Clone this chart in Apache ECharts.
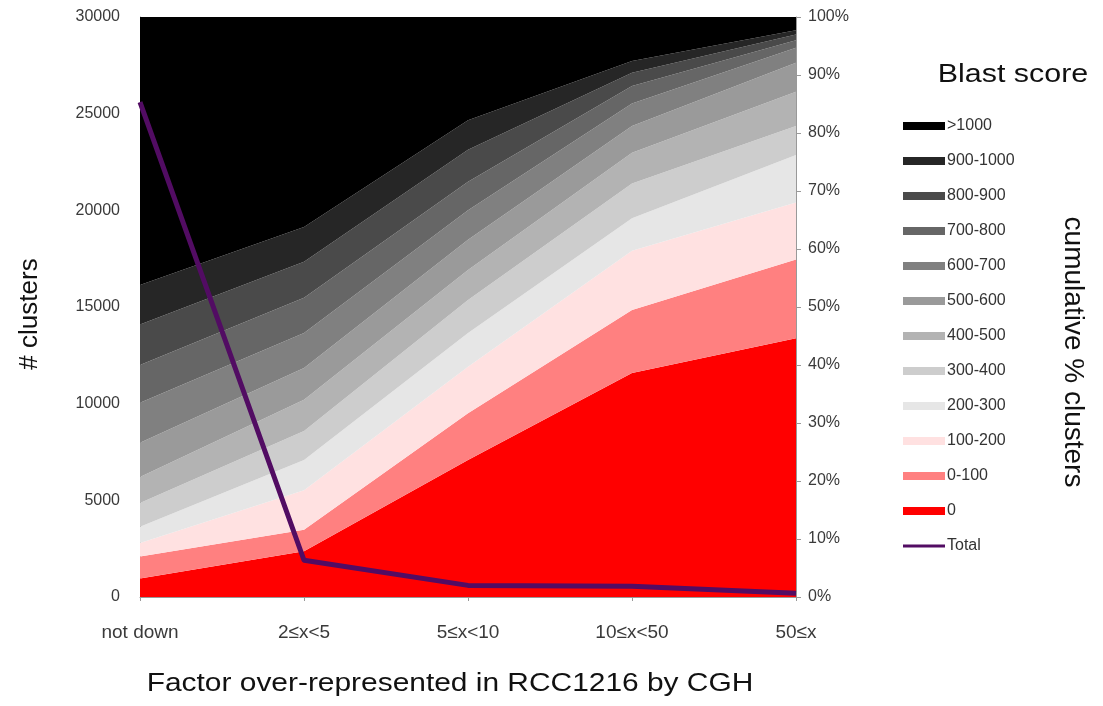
<!DOCTYPE html>
<html>
<head>
<meta charset="utf-8">
<script src="https://cdn.jsdelivr.net/npm/echarts@6/dist/echarts.min.js"></script>
<style>
html,body{margin:0;padding:0;background:#fff;}
#chart{width:1103px;height:706px;}
</style>
</head>
<body>
<div id="chart"></div>
<script>
// ---- data ----
const categories = ['not down', '2≤x<5', '5≤x<10', '10≤x<50', '50≤x'];
const leftTicks = [0, 5000, 10000, 15000, 20000, 25000, 30000];
const rightTicks = [0, 10, 20, 30, 40, 50, 60, 70, 80, 90, 100];

// percentage of clusters per blast-score bin (stacked, bottom to top)
const pct0        = [3.2, 7.9, 23.6, 38.6, 44.6];
const pct0_100    = [3.8, 3.7, 8.1, 10.9, 13.6];
const pct100_200  = [2.3, 6.8, 8.0, 10.2, 9.8];
const pct200_300  = [2.8, 5.2, 5.8, 5.6, 8.2];
const pct300_400  = [4.1, 5.0, 5.7, 6.0, 5.0];
const pct400_500  = [4.5, 5.4, 5.2, 5.3, 5.9];
const pct500_600  = [5.9, 5.5, 5.2, 4.6, 5.0];
const pct600_700  = [6.9, 6.0, 5.1, 3.9, 2.6];
const pct700_800  = [6.5, 6.1, 4.9, 3.0, 1.3];
const pct800_900  = [7.0, 6.2, 5.5, 2.3, 1.0];
const pct900_1000 = [6.8, 6.0, 5.1, 2.0, 0.7];
const pctOver1000 = [46.2, 36.2, 17.8, 7.6, 2.3];

// total number of clusters
const totalClusters = [25600, 1900, 600, 550, 200];

// ---- series definitions (bottom to top) ----
const layers = [
  {name: '0',        data: pct0,        color: '#ff0000'},
  {name: '0-100',    data: pct0_100,    color: '#ff8080'},
  {name: '100-200',  data: pct100_200,  color: '#ffe1e1'},
  {name: '200-300',  data: pct200_300,  color: '#e6e6e6'},
  {name: '300-400',  data: pct300_400,  color: '#cdcdcd'},
  {name: '400-500',  data: pct400_500,  color: '#b3b3b3'},
  {name: '500-600',  data: pct500_600,  color: '#9a9a9a'},
  {name: '600-700',  data: pct600_700,  color: '#808080'},
  {name: '700-800',  data: pct700_800,  color: '#666666'},
  {name: '800-900',  data: pct800_900,  color: '#4a4a4a'},
  {name: '900-1000', data: pct900_1000, color: '#262626'},
  {name: '>1000',    data: pctOver1000, color: '#000000'}
];
const totalColor = '#520c63';
const FONT = "'Liberation Sans', Arial, Helvetica, sans-serif";

const series = layers.map(l => ({
  name: l.name,
  type: 'line',
  stack: 'pct',
  yAxisIndex: 1,
  data: l.data,
  symbol: 'none',
  smooth: false,
  color: l.color,
  itemStyle: {color: l.color},
  lineStyle: {width: 0, color: l.color},
  areaStyle: {color: l.color, opacity: 1},
  emphasis: {disabled: true},
  z: 2
}));
series.push({
  name: 'Total',
  type: 'line',
  yAxisIndex: 0,
  data: totalClusters,
  symbol: 'none',
  color: totalColor,
  lineStyle: {width: 5, color: totalColor, join: 'round'},
  emphasis: {disabled: true},
  z: 5
});

const legendData = layers.slice().reverse().map(l => ({
  name: l.name, icon: 'rect', itemStyle: {color: l.color}
}));
legendData.push({name: 'Total', icon: 'path://M0,4 L42,4 L42,7 L0,7 Z', itemStyle: {color: totalColor}});

const chart = echarts.init(document.getElementById('chart'), null, {renderer: 'canvas'});
chart.setOption({
  backgroundColor: '#ffffff',
  animation: false,
  grid: {left: 140, right: 307, top: 17, bottom: 109, containLabel: false},
  xAxis: {
    type: 'category',
    data: categories,
    boundaryGap: false,
    axisLine: {show: true, lineStyle: {color: '#999', width: 1}},
    axisTick: {show: true, length: 4, lineStyle: {color: '#999'}},
    axisLabel: {color: '#3a3a3a', fontSize: 19, fontFamily: FONT, margin: 26},
    splitLine: {show: false}
  },
  yAxis: [
    {
      type: 'value', min: leftTicks[0], max: leftTicks[leftTicks.length - 1], interval: 5000,
      position: 'left',
      axisLine: {show: true, lineStyle: {color: '#999', width: 1}},
      axisTick: {show: false},
      axisLabel: {color: '#3a3a3a', fontSize: 16, fontFamily: FONT, margin: 20,
                  formatter: v => String(v)},
      splitLine: {show: false}
    },
    {
      type: 'value', min: rightTicks[0], max: rightTicks[rightTicks.length - 1], interval: 10,
      position: 'right',
      axisLine: {show: true, lineStyle: {color: '#999', width: 1}},
      axisTick: {show: true, length: 5, lineStyle: {color: '#999'}},
      axisLabel: {color: '#3a3a3a', fontSize: 16, fontFamily: FONT, margin: 12, formatter: '{value}%'},
      splitLine: {show: false}
    }
  ],
  legend: {
    orient: 'vertical',
    left: 903,
    top: 118,
    padding: 0,
    itemWidth: 42,
    itemHeight: 8,
    itemGap: 19,
    selectedMode: false,
    textStyle: {color: '#333', fontSize: 16, fontFamily: FONT, lineHeight: 15, padding: [0, 0, 0, -3]},
    data: legendData
  },
  graphic: [
    {type: 'text', x: 1013, y: 75, scaleX: 1.17,
     style: {text: 'Blast score', fill: '#111', font: '26px ' + FONT, align: 'center', verticalAlign: 'middle'}},
    {type: 'text', x: 450, y: 684, scaleX: 1.15,
     style: {text: 'Factor over-represented in RCC1216 by CGH', fill: '#111', font: '26px ' + FONT, align: 'center', verticalAlign: 'middle'}},
    {type: 'text', x: 30, y: 314, rotation: Math.PI / 2,
     style: {text: '# clusters', fill: '#111', font: '26px ' + FONT, align: 'center', verticalAlign: 'middle'}},
    {type: 'text', x: 1073, y: 352, rotation: -Math.PI / 2,
     style: {text: 'cumulative % clusters', fill: '#111', font: '28px ' + FONT, align: 'center', verticalAlign: 'middle'}}
  ],
  series: series
});
</script>
</body>
</html>
